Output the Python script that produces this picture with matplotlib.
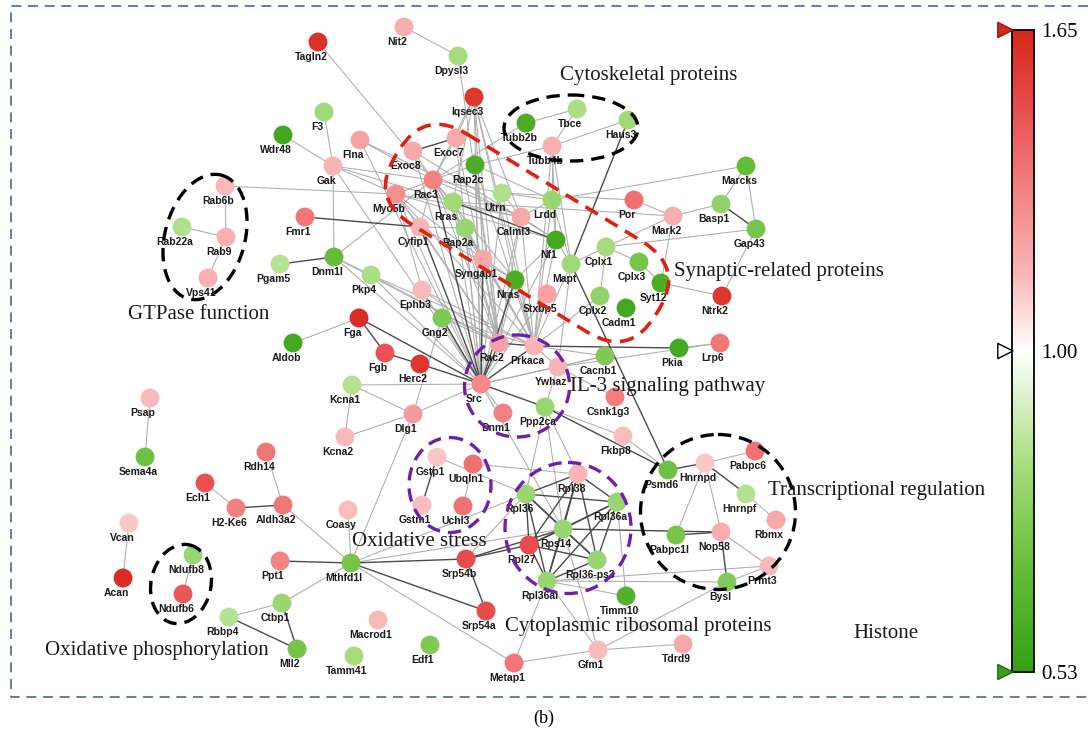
import matplotlib.pyplot as plt
import numpy as np
from matplotlib import patches
from matplotlib.cm import ScalarMappable
from matplotlib.collections import LineCollection
from matplotlib.colors import LinearSegmentedColormap, TwoSlopeNorm
from matplotlib.transforms import Affine2D, blended_transform_factory

# protein names and their fold change
names = [
    "Tagln2", "Nit2", "Dpysl3", "F3", "Wdr48", "Iqsec3", "Tubb2b", "Tbce", "Haus3", "Tubb4b",
    "Flna", "Exoc8", "Exoc7", "Rap2c", "Gak", "Rab6b", "Rac3", "Myo5b", "Rras", "Utrn",
    "Lrdd", "Calml3", "Por", "Mark2", "Marcks", "Basp1", "Gap43", "Fmr1", "Rab22a", "Rab9",
    "Vps41", "Cyfip1", "Rap2a", "Syngap1", "Nf1", "Cplx1", "Cplx3", "Mapt", "Syt12", "Ntrk2",
    "Dnm1l", "Pgam5", "Pkp4", "Ephb3", "Nras", "Stxbp5", "Cplx2", "Cadm1", "Gng2", "Fga",
    "Aldob", "Rac2", "Prkaca", "Pkia", "Lrp6", "Fgb", "Herc2", "Cacnb1", "Ywhaz", "Src",
    "Kcna1", "Csnk1g3", "Dnm1", "Ppp2ca", "Dlg1", "Psap", "Kcna2", "Fkbp8", "Sema4a", "Rdh14",
    "Gstp1", "Ubqln1", "Rpl38", "Psmd6", "Hnrnpd", "Pabpc6", "Ech1", "Hnrnpf", "Rpl36", "Rpl36a",
    "H2-Ke6", "Aldh3a2", "Gstm1", "Uchl3", "Coasy", "Rbmx", "Vcan", "Rps14", "Pabpc1l", "Nop58",
    "Rpl27", "Ndufb8", "Mthfd1l", "Ppt1", "Srp54b", "Rpl36-ps3", "Acan", "Ndufb6", "Rpl36al", "Bysl",
    "Prmt3", "Ctbp1", "Timm10", "Srp54a", "Rbbp4", "Macrod1", "Mll2", "Edf1", "Gfm1", "Tdrd9",
    "Tamm41", "Metap1",
]
fold_change = [
    1.60, 1.18, 0.83, 0.82, 0.57, 1.58, 0.60, 0.84, 0.82, 1.17,
    1.22, 1.20, 1.20, 0.60, 1.16, 1.15, 1.33, 1.28, 0.82, 0.85,
    0.80, 1.20, 1.38, 1.18, 0.68, 0.78, 0.72, 1.36, 0.85, 1.17,
    1.17, 1.16, 0.80, 1.20, 0.58, 0.83, 0.72, 0.82, 0.60, 1.58,
    0.68, 0.86, 0.84, 1.15, 0.60, 1.22, 0.78, 0.58, 0.74, 1.62,
    0.58, 1.22, 1.16, 0.58, 1.36, 1.48, 1.58, 0.74, 1.16, 1.30,
    0.86, 1.34, 1.33, 0.80, 1.24, 1.15, 1.15, 1.14, 0.70, 1.36,
    1.12, 1.38, 1.16, 0.70, 1.12, 1.38, 1.48, 0.86, 0.80, 0.80,
    1.34, 1.36, 1.14, 1.38, 1.14, 1.20, 1.12, 0.80, 0.72, 1.18,
    1.50, 0.80, 0.72, 1.32, 1.50, 0.80, 1.62, 1.46, 0.80, 0.75,
    1.15, 0.80, 0.62, 1.50, 0.86, 1.15, 0.72, 0.74, 1.15, 1.20,
    0.83, 1.36,
]

# network layout (pixel space of the canvas)
pos_x = [
    318, 404, 458, 324, 283, 474, 526, 577, 628, 552,
    360, 413, 456, 475, 333, 225, 433, 396, 453, 502,
    552, 521, 634, 673, 746, 721, 756, 305, 182, 226,
    208, 420, 465, 483, 556, 606, 639, 571, 661, 722,
    334, 280, 371, 422, 515, 547, 600, 626, 442, 359,
    293, 499, 534, 679, 720, 385, 420, 605, 558, 481,
    352, 615, 503, 545, 413, 150, 345, 623, 145, 266,
    437, 473, 578, 668, 705, 755, 205, 746, 526, 617,
    236, 283, 422, 463, 348, 776, 129, 563, 676, 721,
    529, 193, 351, 280, 466, 597, 123, 183, 547, 727,
    769, 282, 626, 486, 229, 378, 297, 430, 598, 683,
    354, 514,
]
pos_y = [
    42, 27, 56, 112, 135, 97, 123, 109, 120, 146,
    140, 151, 138, 165, 166, 186, 180, 194, 202, 193,
    200, 217, 200, 216, 166, 204, 229, 217, 227, 237,
    278, 227, 228, 259, 240, 247, 262, 264, 283, 296,
    257, 264, 275, 290, 280, 294, 296, 308, 318, 318,
    343, 343, 346, 348, 343, 353, 364, 356, 367, 384,
    385, 397, 413, 407, 414, 398, 437, 436, 457, 452,
    457, 464, 474, 470, 463, 451, 483, 494, 494, 502,
    508, 505, 505, 506, 510, 520, 523, 529, 535, 532,
    545, 555, 563, 561, 559, 560, 578, 594, 581, 582,
    566, 603, 596, 611, 617, 620, 649, 645, 650, 644,
    656, 663,
]

# interactions
edges_light = [
    ("Tagln2", "Rac3"), ("Nit2", "Dpysl3"), ("Dpysl3", "Rac2"), ("F3", "Gak"), ("Wdr48", "Gak"),
    ("Gak", "Dnm1l"), ("Gak", "Rac3"), ("Gak", "Myo5b"), ("Gak", "Src"), ("Gak", "Rras"),
    ("Flna", "Rac3"), ("Flna", "Src"), ("Flna", "Calml3"), ("Rab6b", "Rab9"), ("Rab22a", "Rab9"),
    ("Rab9", "Vps41"), ("Rab6b", "Myo5b"), ("Dnm1l", "Src"), ("Dnm1l", "Rac3"), ("Dnm1l", "Rac2"),
    ("Iqsec3", "Exoc7"), ("Iqsec3", "Rac3"), ("Iqsec3", "Syngap1"), ("Iqsec3", "Rac2"),
    ("Iqsec3", "Src"), ("Iqsec3", "Prkaca"), ("Iqsec3", "Nras"), ("Iqsec3", "Rras"),
    ("Iqsec3", "Calml3"), ("Exoc7", "Rac3"), ("Exoc7", "Src"), ("Exoc7", "Rac2"),
    ("Exoc8", "Rac3"), ("Exoc8", "Src"), ("Exoc8", "Nf1"), ("Tubb2b", "Tbce"), ("Tubb2b", "Rac3"),
    ("Tubb4b", "Haus3"), ("Tubb4b", "Nf1"), ("Tubb4b", "Mapt"), ("Tubb4b", "Prkaca"),
    ("Tubb4b", "Lrdd"), ("Tubb4b", "Rap2c"), ("Tbce", "Tubb4b"), ("Rac3", "Myo5b"),
    ("Rac3", "Cyfip1"), ("Rac3", "Rras"), ("Rac3", "Rap2c"), ("Rac3", "Rac2"), ("Rac3", "Prkaca"),
    ("Rac3", "Syngap1"), ("Rac3", "Nras"), ("Rac3", "Utrn"), ("Rac3", "Calml3"),
    ("Myo5b", "Cyfip1"), ("Myo5b", "Src"), ("Myo5b", "Rac2"), ("Myo5b", "Prkaca"),
    ("Myo5b", "Syngap1"), ("Myo5b", "Nf1"), ("Myo5b", "Calml3"), ("Rras", "Src"), ("Rras", "Rac2"),
    ("Rras", "Syngap1"), ("Rras", "Calml3"), ("Rap2c", "Lrdd"), ("Rap2c", "Src"),
    ("Rap2c", "Prkaca"), ("Rap2c", "Rac2"), ("Utrn", "Calml3"), ("Utrn", "Src"),
    ("Utrn", "Prkaca"), ("Utrn", "Lrdd"), ("Calml3", "Nf1"), ("Calml3", "Prkaca"),
    ("Calml3", "Src"), ("Calml3", "Rac2"), ("Calml3", "Lrdd"), ("Lrdd", "Prkaca"), ("Lrdd", "Mapt"),
    ("Lrdd", "Nf1"), ("Lrdd", "Marcks"), ("Cyfip1", "Rac2"), ("Cyfip1", "Rap2a"),
    ("Cyfip1", "Nras"), ("Rap2a", "Src"), ("Rap2a", "Rac2"), ("Rap2a", "Prkaca"),
    ("Rap2a", "Syngap1"), ("Syngap1", "Rac2"), ("Syngap1", "Prkaca"), ("Syngap1", "Nras"),
    ("Nf1", "Nras"), ("Nf1", "Src"), ("Nf1", "Prkaca"), ("Nf1", "Mapt"), ("Nras", "Rac2"),
    ("Nras", "Prkaca"), ("Mapt", "Cplx1"), ("Mapt", "Prkaca"), ("Mapt", "Ywhaz"),
    ("Por", "Mark2"), ("Por", "Utrn"), ("Mark2", "Rras"), ("Mark2", "Cplx1"), ("Mark2", "Basp1"),
    ("Mark2", "Syt12"), ("Marcks", "Basp1"), ("Marcks", "Gap43"), ("Gap43", "Cplx1"),
    ("Gap43", "Ntrk2"), ("Cplx1", "Cplx3"), ("Cplx1", "Cplx2"), ("Cplx3", "Syt12"),
    ("Syt12", "Ntrk2"), ("Cplx2", "Prkaca"), ("Pkia", "Lrp6"), ("Lrp6", "Ywhaz"),
    ("Cacnb1", "Prkaca"), ("Cacnb1", "Src"), ("Cacnb1", "Ywhaz"), ("Pkp4", "Src"),
    ("Pkp4", "Prkaca"), ("Pkp4", "Rac2"), ("Pkp4", "Dnm1l"), ("Ephb3", "Src"), ("Ephb3", "Rac2"),
    ("Ephb3", "Myo5b"), ("Ephb3", "Prkaca"), ("Gng2", "Prkaca"), ("Gng2", "Rac2"),
    ("Gng2", "Dlg1"), ("Stxbp5", "Src"), ("Stxbp5", "Prkaca"), ("Fga", "Aldob"),
    ("Kcna1", "Kcna2"), ("Kcna1", "Dlg1"), ("Kcna2", "Dlg1"), ("Dlg1", "Src"), ("Kcna1", "Src"),
    ("Prkaca", "Ywhaz"), ("Src", "Ywhaz"), ("Src", "Dnm1"), ("Ywhaz", "Csnk1g3"),
    ("Ppp2ca", "Ywhaz"), ("Ppp2ca", "Rpl38"), ("Ppp2ca", "Rpl36"), ("Ppp2ca", "Rps14"),
    ("Ppp2ca", "Fkbp8"), ("Fkbp8", "Psmd6"), ("Hnrnpd", "Pabpc6"), ("Hnrnpd", "Nop58"),
    ("Hnrnpd", "Pabpc1l"), ("Hnrnpf", "Rbmx"), ("Nop58", "Prmt3"), ("Bysl", "Prmt3"),
    ("Bysl", "Rpl36al"), ("Bysl", "Gfm1"), ("Timm10", "Rpl36a"), ("Timm10", "Rpl36al"),
    ("Srp54b", "Rpl36"), ("Mthfd1l", "Rpl36"), ("Mthfd1l", "Rps14"), ("Mthfd1l", "Metap1"),
    ("Mthfd1l", "Aldh3a2"), ("Mthfd1l", "Coasy"), ("Mthfd1l", "Ctbp1"), ("Mthfd1l", "Dlg1"),
    ("Rdh14", "Aldh3a2"), ("Ech1", "H2-Ke6"), ("Vcan", "Acan"), ("Ndufb8", "Ndufb6"),
    ("Psap", "Sema4a"), ("Ctbp1", "Rbbp4"), ("Ubqln1", "Uchl3"), ("Ubqln1", "Rpl38"),
    ("Gstp1", "Rpl36"), ("Metap1", "Gfm1"), ("Metap1", "Rpl36al"), ("Gfm1", "Rpl36al"),
    ("Gfm1", "Tdrd9"), ("Gfm1", "Rps14"), ("Rpl36al", "Prmt3"), ("Src", "Rps14"),
]
edges_dark = [
    ("Fmr1", "Cyfip1"), ("Pgam5", "Dnm1l"), ("Exoc8", "Exoc7"), ("Haus3", "Mapt"),
    ("Rras", "Nf1"), ("Cyfip1", "Src"), ("Syngap1", "Src"), ("Nras", "Src"), ("Rac3", "Src"),
    ("Mapt", "Psmd6"), ("Basp1", "Gap43"), ("Pkia", "Prkaca"), ("Gng2", "Src"), ("Fga", "Fgb"),
    ("Fga", "Src"), ("Fgb", "Herc2"), ("Herc2", "Src"), ("Rac2", "Src"), ("Rac2", "Prkaca"),
    ("Prkaca", "Src"), ("Src", "Ppp2ca"), ("Ppp2ca", "Psmd6"), ("Psmd6", "Hnrnpd"),
    ("Hnrnpd", "Hnrnpf"), ("Nop58", "Pabpc1l"), ("Nop58", "Bysl"), ("Rps14", "Nop58"),
    ("Rpl38", "Rpl36"), ("Rpl38", "Rpl36a"), ("Rpl38", "Rps14"), ("Rpl38", "Rpl27"),
    ("Rpl38", "Rpl36-ps3"), ("Rpl38", "Rpl36al"), ("Rpl36", "Rpl36a"), ("Rpl36", "Rps14"),
    ("Rpl36", "Rpl27"), ("Rpl36", "Rpl36al"), ("Rpl36", "Rpl36-ps3"), ("Rpl36a", "Rps14"),
    ("Rpl36a", "Rpl27"), ("Rpl36a", "Rpl36-ps3"), ("Rpl36a", "Rpl36al"), ("Rps14", "Rpl27"),
    ("Rps14", "Rpl36-ps3"), ("Rps14", "Rpl36al"), ("Rpl27", "Rpl36al"), ("Rpl27", "Rpl36-ps3"),
    ("Rpl36-ps3", "Rpl36al"), ("Srp54b", "Srp54a"), ("Srp54b", "Rpl27"), ("Srp54b", "Rps14"),
    ("Mthfd1l", "Srp54b"), ("Mthfd1l", "Srp54a"), ("Mthfd1l", "Ppt1"), ("H2-Ke6", "Aldh3a2"),
    ("Ctbp1", "Mll2"), ("Rbbp4", "Mll2"), ("Gstp1", "Gstm1"),
]

# functional groups: (label, label x, label y)
group_labels = [
    ("Cytoskeletal proteins", 560, 75),
    ("Synaptic-related proteins", 674, 271),
    ("GTPase function", 128, 314),
    ("IL-3 signaling pathway", 570, 386),
    ("Transcriptional regulation", 768, 490),
    ("Oxidative stress", 352, 541),
    ("Cytoplasmic ribosomal proteins", 505, 626),
    ("Histone", 853, 633),
    ("Oxidative phosphorylation", 45, 651),
]

cbar_ticks = [0.53, 1.00, 1.65]

cmap = LinearSegmentedColormap.from_list("fc", [
    (0.00, "#36a014"), (0.15, "#62bb35"), (0.32, "#a6dc7e"), (0.50, "#ffffff"),
    (0.62, "#f9b6b6"), (0.77, "#f27a7a"), (0.90, "#e64646"), (1.00, "#d8261a"),
])
norm = TwoSlopeNorm(vmin=0.53, vcenter=1.0, vmax=1.65)

W, H = 1088, 737
fig = plt.figure(figsize=(W / 100, H / 100), dpi=100)
ax = fig.add_axes([0, 0, 1, 1])
ax.set_xlim(0, W)
ax.set_ylim(H, 0)
ax.axis("off")

idx = {n: i for i, n in enumerate(names)}
xy = np.column_stack([pos_x, pos_y])


def segs(edge_list):
    return [[xy[idx[a]], xy[idx[b]]] for a, b in edge_list]


ax.add_collection(LineCollection(segs(edges_light), colors="#adadad", linewidths=0.75, zorder=1))
ax.add_collection(LineCollection(segs(edges_dark), colors="#4a4a4a", linewidths=1.0, zorder=1))

ax.scatter(pos_x, pos_y, s=185, c=fold_change, cmap=cmap, norm=norm, linewidths=0, zorder=3)

for n, x, y in zip(names, pos_x, pos_y):
    ax.text(x - 7, y + 15, n, fontsize=7.5, fontweight="bold", family="Liberation Sans",
            ha="center", va="center", color="#1a1a1a", zorder=4)

# dashed enclosures
dash = (0, (4, 2.4))
black_groups = [((571, 128), 134, 66, 0), ((205, 237), 80, 128, 15),
                ((718, 512), 155, 155, 0), ((181, 584), 60, 80, 12)]
purple_groups = [((517, 386), 105, 102, 0), ((450, 485), 82, 95, 0), ((568, 528), 126, 131, 0)]
for c, w, h, a in black_groups:
    ax.add_patch(patches.Ellipse(c, w, h, angle=a, fill=False, ec="black", lw=2.4, ls=dash, zorder=5))
for c, w, h, a in purple_groups:
    ax.add_patch(patches.Ellipse(c, w, h, angle=a, fill=False, ec="#7020a8", lw=2.4, ls=dash, zorder=5))

# synaptic group: rotated stadium
cx, cy, length, width = 527, 233, 305, 106
stadium = patches.FancyBboxPatch((cx - length / 2, cy - width / 2), length, width,
                                 boxstyle="round,pad=0,rounding_size=50", fill=False,
                                 ec="#e02010", lw=2.6, ls=dash, zorder=5)
stadium.set_transform(Affine2D().rotate_deg_around(cx, cy, 31.5) + ax.transData)
ax.add_patch(stadium)

for text, x, y in group_labels:
    ax.text(x, y, text, fontsize=15, family="Liberation Serif", ha="left", va="center",
            color="#1a1a1a", zorder=6)

ax.text(544, 718, "(b)", fontsize=13, family="Liberation Serif", ha="center", va="center")

# dashed frame
ax.plot([W, 11, 11, W], [6, 6, 697, 697], color="#4a62aa", lw=1.2, ls=(0, (6, 4)),
        clip_on=False, zorder=0)

# colour scale
cax = fig.add_axes([1012 / W, (H - 672) / H, 22 / W, 642 / H])
cb = fig.colorbar(ScalarMappable(norm=norm, cmap=cmap), cax=cax, ticks=cbar_ticks)
cb.set_ticklabels([f"{t:.2f}" for t in cbar_ticks])
cb.outline.set_linewidth(1.3)
cb.outline.set_edgecolor("black")
cax.tick_params(length=0, pad=5, labelsize=15)
for lab in cax.get_yticklabels():
    lab.set_fontfamily("Liberation Serif")
tr = blended_transform_factory(cax.transAxes, cax.transData)
cax.scatter([-0.3] * 3, cbar_ticks, marker=">", s=120, transform=tr, clip_on=False,
            c=["#3c9c20", "white", "#d8261a"], edgecolors=["#2a6a10", "black", "#8a1a10"],
            linewidths=1, zorder=5)

fig.savefig("out.png", dpi=100)
